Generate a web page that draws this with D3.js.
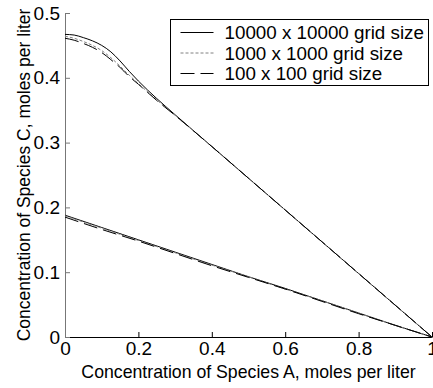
<!DOCTYPE html>
<html lang="en">
	<head>
		<meta charset="utf-8">
		<title>species concentration</title>
		<script type="text/javascript" src="https://cdn.jsdelivr.net/npm/d3@7"></script>
		<style type="text/css">
			body { margin: 0; background: #fff; }
			text { font-family: "Liberation Sans", Arial, sans-serif; }
		</style>
	</head>

	<body>
		<script type="text/javascript">

		// chart size
		var w = 433;
		var h = 388;
		var margin = {top: 13, right: 1, bottom: 51, left: 65};

		// concentration of species A (x values)
		var aUpper = [0, 0.025, 0.05, 0.075, 0.1, 0.125, 0.15, 0.175, 0.2, 0.25, 0.3, 0.4, 0.5, 0.6, 0.7, 0.8, 0.9, 1];
		var aLower = [0, 0.1, 0.2, 0.3, 0.4, 0.5, 0.6, 0.7, 0.8, 0.9, 1];

		// concentration of species C, upper family of curves
		var cUpper10000 = [0.467, 0.466, 0.462, 0.457, 0.450, 0.440, 0.426, 0.410, 0.395, 0.368, 0.343, 0.294, 0.245, 0.196, 0.147, 0.098, 0.049, 0];
		var cUpper1000  = [0.464, 0.461, 0.456, 0.450, 0.442, 0.431, 0.418, 0.404, 0.391, 0.366, 0.342, 0.294, 0.245, 0.196, 0.147, 0.098, 0.049, 0];
		var cUpper100   = [0.461, 0.458, 0.453, 0.447, 0.439, 0.428, 0.416, 0.402, 0.390, 0.365, 0.342, 0.294, 0.245, 0.196, 0.147, 0.098, 0.049, 0];

		// lower family of curves
		var cLower10000 = [0.188, 0.169, 0.150, 0.131, 0.112, 0.093, 0.075, 0.056, 0.037, 0.018, 0];
		var cLower1000  = [0.187, 0.168, 0.149, 0.130, 0.111, 0.093, 0.074, 0.056, 0.037, 0.018, 0];
		var cLower100   = [0.185, 0.166, 0.148, 0.129, 0.110, 0.092, 0.074, 0.055, 0.036, 0.018, 0];

		var seriesNames = ["10000 x 10000 grid size", "1000 x 1000 grid size", "100 x 100 grid size"];
		var xTicks = [0, 0.2, 0.4, 0.6, 0.8, 1];
		var yTicks = [0, 0.1, 0.2, 0.3, 0.4, 0.5];

		var styles = [
			{stroke: "#000", dash: null},     // 10000
			{stroke: "#808080", dash: "3,2"}, // 1000
			{stroke: "#000", dash: "14,6"}    // 100
		];

		var svg = d3.select("body")
					.append("svg")
					.attr("width", w)
					.attr("height", h);

		var iw = w - margin.left - margin.right;
		var ih = h - margin.top - margin.bottom;

		var g = svg.append("g")
			.attr("transform", "translate(" + margin.left + "," + margin.top + ")");

		var x = d3.scaleLinear().domain([0, 1]).range([0, iw]);
		var y = d3.scaleLinear().domain([0, 0.5]).range([ih, 0]);

		// axes, ticks pointing inward
		var xAxis = g.append("g")
			.attr("transform", "translate(0," + ih + ")")
			.call(d3.axisBottom(x).tickValues(xTicks).tickFormat(function(d){ return d; })
				.tickSizeInner(-5).tickSizeOuter(0).tickPadding(5));

		var yAxis = g.append("g")
			.call(d3.axisLeft(y).tickValues(yTicks).tickFormat(function(d){ return d; })
				.tickSizeInner(-5).tickSizeOuter(0).tickPadding(5));

		g.selectAll(".tick text")
			.attr("font-family", "Liberation Sans, Arial, sans-serif")
			.attr("font-size", 19)
			.attr("fill", "#000");
		xAxis.select(".domain").attr("stroke", "#000");
		yAxis.select(".domain").attr("stroke", "#777");
		yAxis.selectAll(".tick line").attr("stroke", "#777");

		// curves
		var line = d3.line()
			.x(function(d){ return x(d[0]); })
			.y(function(d){ return y(d[1]); })
			.curve(d3.curveMonotoneX);

		var curves = [
			{xs: aUpper, ys: cUpper10000, s: 0},
			{xs: aUpper, ys: cUpper1000, s: 1},
			{xs: aUpper, ys: cUpper100, s: 2},
			{xs: aLower, ys: cLower10000, s: 0},
			{xs: aLower, ys: cLower1000, s: 1},
			{xs: aLower, ys: cLower100, s: 2}
		];

		g.selectAll("path.curve")
			.data(curves)
			.enter()
			.append("path")
			.attr("class", "curve")
			.attr("fill", "none")
			.attr("stroke", function(d){ return styles[d.s].stroke; })
			.attr("stroke-dasharray", function(d){ return styles[d.s].dash; })
			.attr("stroke-width", 1)
			.attr("d", function(d){
				return line(d.xs.map(function(v, i){ return [v, d.ys[i]]; }));
			});

		// axis titles
		svg.append("text")
			.attr("x", margin.left + iw / 2)
			.attr("y", 378)
			.attr("text-anchor", "middle")
			.attr("font-size", 17.7)
			.text("Concentration of Species A, moles per liter");

		svg.append("text")
			.attr("transform", "translate(30," + (margin.top + ih / 2) + ") rotate(-90)")
			.attr("text-anchor", "middle")
			.attr("font-size", 17.5)
			.text("Concentration of Species C, moles per liter");

		// legend
		var legend = svg.append("g").attr("transform", "translate(170.5,19.5)");
		legend.append("rect")
			.attr("width", 258)
			.attr("height", 66)
			.attr("fill", "#fff")
			.attr("stroke", "#000");

		var rows = legend.selectAll("g.row")
			.data(seriesNames)
			.enter()
			.append("g")
			.attr("class", "row")
			.attr("transform", function(d, i){ return "translate(0," + (13 + i * 20.5) + ")"; });

		rows.append("line")
			.attr("x1", 10).attr("x2", 43)
			.attr("stroke", function(d, i){ return styles[i].stroke; })
			.attr("stroke-dasharray", function(d, i){ return styles[i].dash; });

		rows.append("text")
			.attr("x", 54)
			.attr("dy", "0.35em")
			.attr("font-size", 18.8)
			.text(function(d){ return d; });

		</script>
	</body>
</html>
